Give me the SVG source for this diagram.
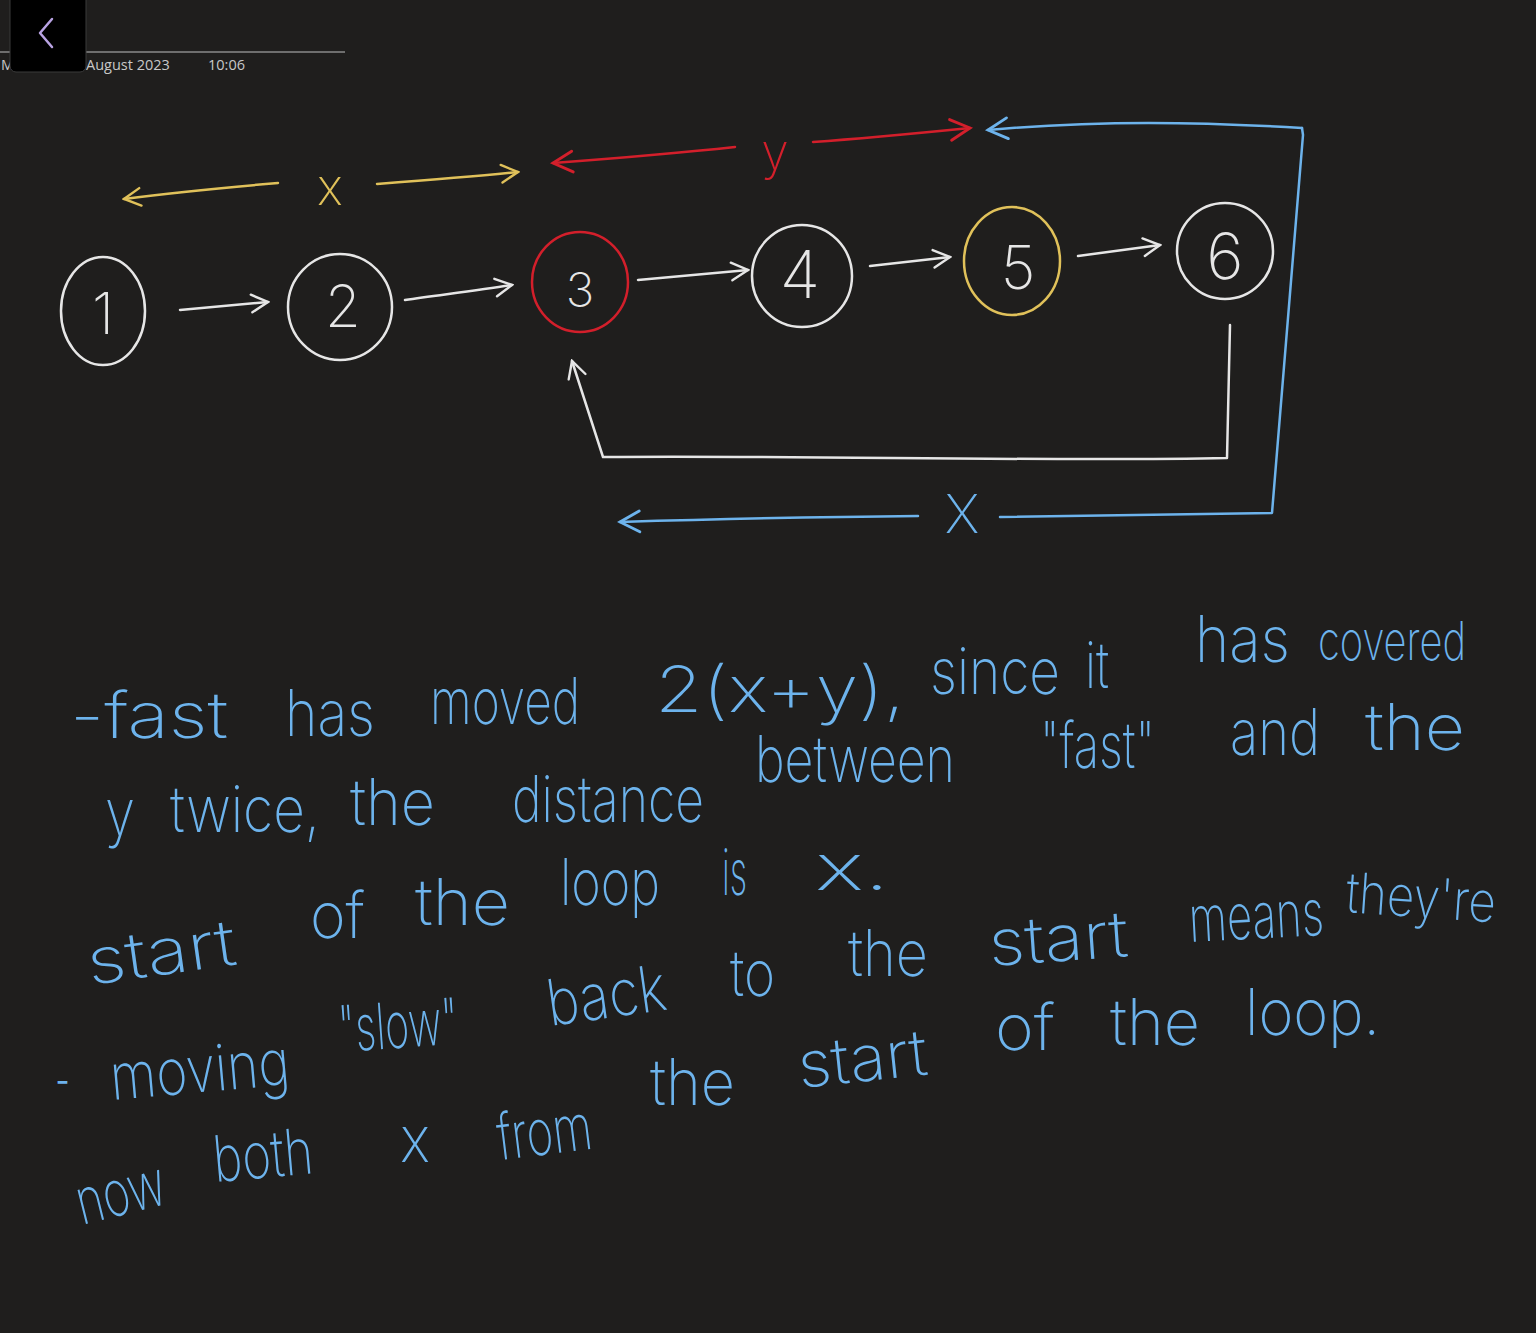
<svg xmlns="http://www.w3.org/2000/svg" width="1536" height="1333" viewBox="0 0 1536 1333">
<defs>
<style>
.bg{fill:#1f1e1d}
.hdr{font-family:"Open Sans","Liberation Sans",Arial,sans-serif;font-size:14.5px;fill:#c8c8c8}
.node{fill:none;stroke-width:2.5}
.w{stroke:#e6e6e6}
.rd{stroke:#d31f2b}
.yl{stroke:#e0c15a}
.bl{stroke:#6db3ec}
.ln{fill:none;stroke-width:2.5;stroke-linecap:round;stroke-linejoin:round}
.dig{font-family:Inter,"DejaVu Sans",sans-serif;font-weight:200;font-size:58px;fill:#e6e6e6;text-anchor:middle}
.lab{font-family:Inter,"DejaVu Sans",sans-serif;font-weight:200;font-size:50px;text-anchor:middle}
.note{font-family:Inter,"DejaVu Sans",sans-serif;font-weight:200;font-size:64px;fill:#6db3ec}
</style>
<marker id="aw" viewBox="0 0 20 20" refX="18" refY="10" markerWidth="22" markerHeight="22" markerUnits="userSpaceOnUse" orient="auto"><path d="M3,2 L18,10 L3,18" fill="none" stroke="#e6e6e6" stroke-width="2.2" stroke-linecap="round"/></marker>
<marker id="ay" viewBox="0 0 20 20" refX="18" refY="10" markerWidth="22" markerHeight="22" markerUnits="userSpaceOnUse" orient="auto"><path d="M3,2 L18,10 L3,18" fill="none" stroke="#e0c15a" stroke-width="2.2" stroke-linecap="round"/></marker>
<marker id="ar" viewBox="0 0 20 20" refX="18" refY="10" markerWidth="26" markerHeight="26" markerUnits="userSpaceOnUse" orient="auto"><path d="M3,2 L18,10 L3,18" fill="none" stroke="#d31f2b" stroke-width="2.2" stroke-linecap="round"/></marker>
<marker id="ab" viewBox="0 0 20 20" refX="18" refY="10" markerWidth="26" markerHeight="26" markerUnits="userSpaceOnUse" orient="auto"><path d="M3,2 L18,10 L3,18" fill="none" stroke="#6db3ec" stroke-width="2.2" stroke-linecap="round"/></marker>
</defs>
<rect class="bg" x="0" y="0" width="1536" height="1333"/>

<g id="header">
<line x1="0" y1="52" x2="345" y2="52" stroke="#8a8a8a" stroke-width="1.5"/>
<text class="hdr" x="1" y="70">M</text>
<rect x="10" y="-8" width="76" height="80" rx="6" fill="#000" stroke="#3a3a3a" stroke-width="1"/>
<polyline points="52,19 40,33 52,47" fill="none" stroke="#b9a3e3" stroke-width="2.5" stroke-linecap="round" stroke-linejoin="round"/>
<text class="hdr" x="86" y="70">August 2023</text>
<text class="hdr" x="208" y="70">10:06</text>
</g>

<g id="connectors">
<path class="ln w" d="M180,310 L268,302" marker-end="url(#aw)"/>
<path class="ln w" d="M405,300 C440,295 480,290 512,285" marker-end="url(#aw)"/>
<path class="ln w" d="M638,280 L748,270" marker-end="url(#aw)"/>
<path class="ln w" d="M870,266 L950,257" marker-end="url(#aw)"/>
<path class="ln w" d="M1078,256 L1160,245" marker-end="url(#aw)"/>
<path class="ln w" d="M1230,325 L1227,458 C1050,462 800,455 603,457 L572,361" marker-end="url(#aw)"/>
</g>

<g id="dim-x-top">
<path class="ln yl" d="M278,183 C220,188 170,193 124,199" marker-end="url(#ay)"/>
<text class="lab" x="330" y="205" fill="#e0c15a">x</text>
<path class="ln yl" d="M377,184 C430,180 480,176 518,172" marker-end="url(#ay)"/>
</g>

<g id="dim-y">
<path class="ln rd" d="M735,147 C680,153 620,158 553,163" marker-end="url(#ar)"/>
<text class="lab" x="775" y="170" fill="#d31f2b">y</text>
<path class="ln rd" d="M813,142 C870,138 920,133 970,128" marker-end="url(#ar)"/>
</g>

<g id="dim-x-loop">
<path class="ln bl" d="M1302,128 C1200,122 1100,120 988,130" marker-end="url(#ab)"/>
<path class="ln bl" d="M1302,128 L1303,135 L1272,513 L1000,517"/>
<text class="lab" x="962" y="533" fill="#6db3ec" style="font-size:54px">X</text>
<path class="ln bl" d="M918,516 C800,517 720,519 620,522" marker-end="url(#ab)"/>
</g>

<g id="node1"><ellipse class="node w" cx="103" cy="311" rx="42" ry="54"/><text class="dig" x="103" y="334">1</text></g>
<g id="node2"><ellipse class="node w" cx="340" cy="307" rx="52" ry="53"/><text class="dig" x="343" y="327">2</text></g>
<g id="node3"><ellipse class="node rd" cx="580" cy="282" rx="48" ry="50"/><text class="dig" x="580" y="307" style="font-size:48px">3</text></g>
<g id="node4"><ellipse class="node w" cx="802" cy="276" rx="50" ry="51"/><text class="dig" x="800" y="298" style="font-size:66px">4</text></g>
<g id="node5"><ellipse class="node yl" cx="1012" cy="261" rx="48" ry="54"/><text class="dig" x="1018" y="289" style="font-size:60px">5</text></g>
<g id="node6"><ellipse class="node w" cx="1225" cy="251" rx="48" ry="48"/><text class="dig" x="1225" y="279" style="font-size:64px">6</text></g>

<g id="notes">
<text class="note" x="70" y="738" textLength="158" lengthAdjust="spacingAndGlyphs">-fast</text>
<text class="note" x="285" y="736" textLength="90" lengthAdjust="spacingAndGlyphs">has</text>
<text class="note" x="430" y="724" textLength="150" lengthAdjust="spacingAndGlyphs">moved</text>
<text class="note" x="655" y="712" textLength="250" lengthAdjust="spacingAndGlyphs">2(x+y),</text>
<text class="note" x="930" y="694" textLength="130" lengthAdjust="spacingAndGlyphs">since</text>
<text class="note" x="1085" y="688" textLength="24" lengthAdjust="spacingAndGlyphs">it</text>
<text class="note" x="1195" y="662" textLength="95" lengthAdjust="spacingAndGlyphs">has</text>
<text class="note" x="1318" y="660" textLength="148" lengthAdjust="spacingAndGlyphs" style="font-size:54px">covered</text>

<text class="note" x="105" y="835" textLength="30" lengthAdjust="spacingAndGlyphs">y</text>
<text class="note" x="170" y="832" textLength="150" lengthAdjust="spacingAndGlyphs">twice,</text>
<text class="note" x="350" y="825" textLength="85" lengthAdjust="spacingAndGlyphs">the</text>
<text class="note" x="512" y="822" textLength="192" lengthAdjust="spacingAndGlyphs">distance</text>
<text class="note" x="755" y="782" textLength="200" lengthAdjust="spacingAndGlyphs">between</text>
<text class="note" x="1040" y="768" textLength="115" lengthAdjust="spacingAndGlyphs">"fast"</text>
<text class="note" x="1230" y="755" textLength="90" lengthAdjust="spacingAndGlyphs">and</text>
<text class="note" x="1365" y="750" textLength="100" lengthAdjust="spacingAndGlyphs">the</text>

<text class="note" x="90" y="985" textLength="150" lengthAdjust="spacingAndGlyphs" transform="rotate(-8 90 985)">start</text>
<text class="note" x="310" y="938" textLength="55" lengthAdjust="spacingAndGlyphs">of</text>
<text class="note" x="415" y="925" textLength="95" lengthAdjust="spacingAndGlyphs">the</text>
<text class="note" x="560" y="905" textLength="100" lengthAdjust="spacingAndGlyphs">loop</text>
<text class="note" x="722" y="895" textLength="25" lengthAdjust="spacingAndGlyphs">is</text>
<text class="note" x="815" y="890" textLength="75" lengthAdjust="spacingAndGlyphs">x.</text>

<text class="note" x="55" y="1102" textLength="15" lengthAdjust="spacingAndGlyphs">-</text>
<text class="note" x="112" y="1100" textLength="180" lengthAdjust="spacingAndGlyphs" transform="rotate(-5 112 1100)">moving</text>
<text class="note" x="340" y="1052" textLength="120" lengthAdjust="spacingAndGlyphs" transform="rotate(-4 340 1052)">"slow"</text>
<text class="note" x="550" y="1026" textLength="120" lengthAdjust="spacingAndGlyphs" transform="rotate(-8 550 1026)">back</text>
<text class="note" x="730" y="996" textLength="45" lengthAdjust="spacingAndGlyphs">to</text>
<text class="note" x="848" y="976" textLength="80" lengthAdjust="spacingAndGlyphs">the</text>
<text class="note" x="990" y="966" textLength="140" lengthAdjust="spacingAndGlyphs" transform="rotate(-4 990 966)">start</text>
<text class="note" x="1190" y="942" textLength="135" lengthAdjust="spacingAndGlyphs" transform="rotate(-3 1190 942)">means</text>
<text class="note" x="1345" y="912" textLength="150" lengthAdjust="spacingAndGlyphs" transform="rotate(4 1345 912)" style="font-size:56px">they're</text>

<text class="note" x="82" y="1225" textLength="90" lengthAdjust="spacingAndGlyphs" transform="rotate(-14 82 1225)">now</text>
<text class="note" x="215" y="1182" textLength="100" lengthAdjust="spacingAndGlyphs" transform="rotate(-5 215 1182)">both</text>
<text class="note" x="400" y="1162" textLength="30" lengthAdjust="spacingAndGlyphs">x</text>
<text class="note" x="500" y="1160" textLength="95" lengthAdjust="spacingAndGlyphs" transform="rotate(-7 500 1160)">from</text>
<text class="note" x="650" y="1105" textLength="85" lengthAdjust="spacingAndGlyphs">the</text>
<text class="note" x="800" y="1088" textLength="130" lengthAdjust="spacingAndGlyphs" transform="rotate(-6 800 1088)">start</text>
<text class="note" x="995" y="1050" textLength="60" lengthAdjust="spacingAndGlyphs">of</text>
<text class="note" x="1110" y="1045" textLength="90" lengthAdjust="spacingAndGlyphs">the</text>
<text class="note" x="1245" y="1035" textLength="135" lengthAdjust="spacingAndGlyphs">loop.</text>
</g>
</svg>
